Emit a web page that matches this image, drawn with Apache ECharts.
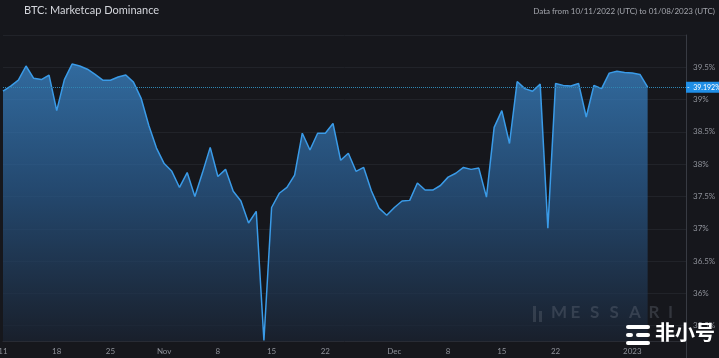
<!DOCTYPE html>
<html>
<head>
<meta charset="utf-8">
<script src="https://cdn.jsdelivr.net/npm/echarts@6/dist/echarts.min.js"></script>
<style>
html,body{margin:0;padding:0;background:#16171c;}
#c{width:719px;height:358px;}
</style>
</head>
<body>
<div id="c"></div>
<script>
// Daily BTC market-cap dominance (%), starting 2022-10-11
const dominance = [
  39.13, 39.21, 39.30, 39.52, 39.33, 39.31, 39.38, 38.83, 39.31, 39.55,
  39.52, 39.47, 39.39, 39.30, 39.30, 39.35, 39.38, 39.27, 39.02, 38.60,
  38.25, 38.01, 37.89, 37.64, 37.87, 37.50, 37.87, 38.26, 37.81, 37.92,
  37.58, 37.43, 37.09, 37.27, 35.27, 37.33, 37.55, 37.64, 37.83, 38.48,
  38.22, 38.48, 38.48, 38.63, 38.06, 38.17, 37.89, 37.95, 37.59, 37.32,
  37.21, 37.33, 37.43, 37.44, 37.71, 37.60, 37.60, 37.67, 37.80, 37.86,
  37.95, 37.92, 37.94, 37.49, 38.57, 38.83, 38.32, 39.28, 39.17, 39.13,
  39.24, 37.01, 39.25, 39.22, 39.21, 39.25, 38.73, 39.22, 39.17, 39.41,
  39.44, 39.42, 39.41, 39.39, 39.192
];
const lastValue = 39.192;
const startDate = '2022-10-11';
const axisDays = 90; // Oct 11 2022 .. Jan 8 2023
const tickDays = [0, 7, 14, 21, 28, 35, 42, 51, 58, 65, 72, 82];
const tickLabels = ['11', '18', '25', 'Nov', '8', '15', '22', 'Dec', '8', '15', '22', '2023'];
const yTicks = [35.5, 36, 36.5, 37, 37.5, 38, 38.5, 39, 39.5];
const watermarkLetters = ['M', 'E', 'S', 'S', 'A', 'R', 'I'];

const categories = [];
{
  const d0 = new Date(startDate + 'T00:00:00Z');
  for (let i = 0; i < axisDays; i++) {
    const d = new Date(d0.getTime() + i * 86400000);
    categories.push(d.toISOString().slice(0, 10));
  }
}

const chart = echarts.init(document.getElementById('c'), null, {renderer: 'canvas'});
const FONT = 'Lato, "Open Sans", sans-serif';

const graphics = [
  {type: 'text', left: 24, top: 5, style: {text: 'BTC: Marketcap Dominance', fill: '#d4d6dc', font: '11px ' + FONT}},
  {type: 'text', right: 4, top: 7, style: {text: 'Data from 10/11/2022 (UTC) to 01/08/2023 (UTC)', fill: '#a4a6ad', font: '8px ' + FONT}},
  {type: 'rect', left: 533, top: 306, z: 10, shape: {width: 3, height: 16}, style: {fill: 'rgba(120,126,138,0.28)'}},
  {type: 'rect', left: 539, top: 311, z: 10, shape: {width: 3, height: 11}, style: {fill: 'rgba(120,126,138,0.28)'}},
  {type: 'rect', left: 626, top: 325, z: 20, shape: {width: 24, height: 4, r: 2}, style: {fill: '#ffffff'}},
  {type: 'rect', left: 626, top: 333, z: 20, shape: {width: 7, height: 4, r: 2}, style: {fill: '#ffffff'}},
  {type: 'rect', left: 636, top: 333, z: 20, shape: {width: 14, height: 4, r: 2}, style: {fill: '#ffffff'}},
  {type: 'rect', left: 626, top: 341, z: 20, shape: {width: 24, height: 4, r: 2}, style: {fill: '#ffffff'}},
  {type: 'text', left: 655, top: 322, z: 20, style: {text: '非小号', fill: '#ffffff', font: 'bold 20px "Noto Sans CJK SC", sans-serif'}}
];
watermarkLetters.forEach(function (ch, i) {
  graphics.push({type: 'text', left: 551 + i * 19.5, top: 304, z: 10,
    style: {text: ch, fill: 'rgba(120,126,138,0.30)', font: 'bold 17px ' + FONT}});
});

chart.setOption({
  backgroundColor: '#16171c',
  animation: false,
  textStyle: {fontFamily: FONT},
  grid: {left: 3, right: 33, top: 35, bottom: 0, outerBoundsMode: 'none', containLabel: false},
  xAxis: {
    type: 'category',
    data: categories,
    boundaryGap: false,
    offset: -17,
    axisLine: {show: true, lineStyle: {color: '#2b2d34', width: 1}},
    axisTick: {show: false},
    splitLine: {show: false},
    axisLabel: {
      color: '#8e9199',
      fontSize: 8,
      fontFamily: FONT,
      margin: 6,
      interval: function (idx) { return tickDays.indexOf(idx) >= 0; },
      formatter: function (val, idx) {
        const k = tickDays.indexOf(idx);
        return k >= 0 ? tickLabels[k] : '';
      }
    }
  },
  yAxis: {
    type: 'value',
    position: 'right',
    min: 35,
    max: 40,
    interval: 0.5,
    axisLine: {show: true, lineStyle: {color: '#383b43', width: 1}},
    axisTick: {show: false},
    splitLine: {show: true, lineStyle: {color: '#212329', width: 1}},
    axisLabel: {
      color: '#8e9199',
      fontSize: 8,
      fontFamily: FONT,
      margin: 7,
      showMinLabel: false,
      showMaxLabel: false,
      formatter: function (v) {
        const r = parseFloat(v.toFixed(1));
        return yTicks.indexOf(r) >= 0 ? r + '%' : '';
      }
    }
  },
  series: [{
    type: 'line',
    data: dominance,
    symbol: 'none',
    lineStyle: {color: '#3a9be8', width: 1.5},
    areaStyle: {
      origin: 35.26,
      color: new echarts.graphic.LinearGradient(0, 0, 0, 1, [
        {offset: 0, color: '#3d8ed6'},
        {offset: 0.45, color: '#2a5e93'},
        {offset: 1, color: '#1a2332'}
      ])
    },
    markLine: {
      silent: true,
      symbol: 'none',
      lineStyle: {type: 'dotted', color: '#2f86b3', width: 1},
      label: {
        position: 'end',
        distance: 0,
        formatter: '-  ' + lastValue + '%',
        color: '#ffffff',
        backgroundColor: '#1f8ee6',
        fontSize: 7,
        fontFamily: FONT,
        padding: [2, 4, 2, 1]
      },
      data: [{yAxis: lastValue}]
    },
    z: 2
  }],
  graphic: graphics
});
</script>
</body>
</html>
